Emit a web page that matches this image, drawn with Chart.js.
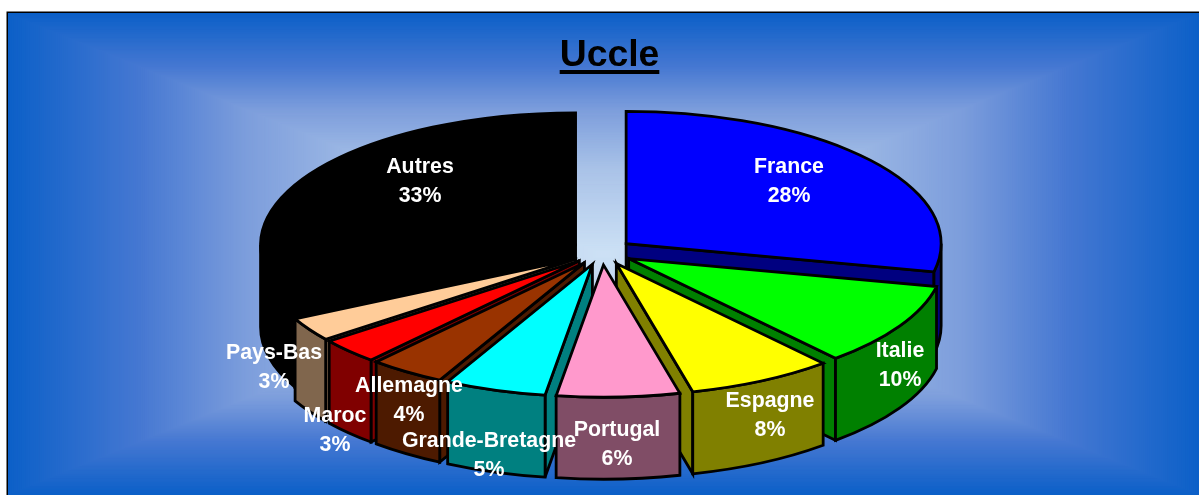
<!DOCTYPE html>
<html>
<head>
<meta charset="utf-8">
<style>html,body{margin:0;padding:0;background:#fff}canvas{display:block}</style>
<script src="https://cdn.jsdelivr.net/npm/chart.js@4/dist/chart.umd.min.js"></script>
</head>
<body>
<canvas id="c" width="1199" height="495"></canvas>
<script>
const categories = ["France","Italie","Espagne","Portugal","Grande-Bretagne","Allemagne","Maroc","Pays-Bas","Autres"];
const values = [28.4,10.2,7.5,6.3,5.2,3.9,3.1,2.9,32.5];
const topColors = ["#0000ff","#00ff00","#ffff00","#ff99cc","#00ffff","#993300","#ff0000","#ffcc99","#000000"];
const sideColors = ["#000080","#008000","#808000","#804d66","#008080","#4d1a00","#800000","#80664d","#000000"];
const titleText = "Uccle";
// label centres (first line), separate from the data
const labelX = [789,900,770,617,489,409,335,274,420];
const labelY = [167,351,401,430,441,386,416,353,167];

const TILT = 0.42, DEPTH = 82, LINE = 2.8, LABEL_GAP = 29;

function paintBackground(ctx, w, h){
  const L=8,T=13,R=w,B=h,cx=(L+R)/2,cy=(T+B)/2,hw=(R-L)/2,hh=(B-T)/2;
  ctx.fillStyle="#fff"; ctx.fillRect(0,0,w,h);
  const ramp=[[0,[12,96,200]],[.22,[70,120,210]],[.4,[125,158,220]],[.65,[170,195,232]],[1,[205,225,245]]];
  const col=t=>{
    for(let i=1;i<ramp.length;i++) if(t<=ramp[i][0]){
      const a=ramp[i-1],b=ramp[i],f=(t-a[0])/(b[0]-a[0]);
      return "rgb("+a[1].map((v,k)=>Math.round(v+(b[1][k]-v)*f)).join(",")+")";
    }
    return "rgb(205,225,245)";
  };
  const N=300;
  for(let n=0;n<N;n++){
    const s=1-n/N;
    ctx.fillStyle=col(n/N);
    ctx.fillRect(cx-hw*s,cy-hh*s,2*hw*s,2*hh*s);
  }
  ctx.strokeStyle="#000";ctx.lineWidth=1.5;
  ctx.beginPath();ctx.moveTo(7.25,h);ctx.lineTo(7.25,12.25);ctx.lineTo(w,12.25);ctx.stroke();
}

function drawSlice(ctx, arc, i){
  const p = arc.getProps(["x","y","startAngle","endAngle","outerRadius"],true);
  const off = arc.options.offset, mid=(p.startAngle+p.endAngle)/2;
  const ax = p.x+Math.cos(mid)*off, ay = p.y+Math.sin(mid)*off*TILT;
  const r=p.outerRadius, ry=r*TILT;
  const px=a=>ax+Math.cos(a)*r, py=a=>ay+Math.sin(a)*ry;
  ctx.lineWidth=LINE;ctx.strokeStyle="#000";ctx.lineJoin="miter";ctx.miterLimit=4;
  const face=a=>{
    ctx.beginPath();ctx.moveTo(ax,ay);ctx.lineTo(px(a),py(a));ctx.lineTo(px(a),py(a)+DEPTH);ctx.lineTo(ax,ay+DEPTH);ctx.closePath();
    ctx.fillStyle=sideColors[i];ctx.fill();ctx.stroke();
  };
  if(Math.cos(p.startAngle)<0) face(p.startAngle);
  if(Math.cos(p.endAngle)>0) face(p.endAngle);
  const w0=Math.max(p.startAngle,0), w1=Math.min(p.endAngle,Math.PI);
  if(w1>w0){
    ctx.beginPath();ctx.ellipse(ax,ay,r,ry,0,w0,w1);
    ctx.ellipse(ax,ay+DEPTH,r,ry,0,w1,w0,true);ctx.closePath();
    ctx.fillStyle=sideColors[i];ctx.fill();ctx.stroke();
  }
  ctx.beginPath();ctx.moveTo(ax,ay);ctx.ellipse(ax,ay,r,ry,0,p.startAngle,p.endAngle);ctx.closePath();
  ctx.fillStyle=topColors[i];ctx.fill();ctx.stroke();
}

const pie3d = {
  id:"pie3d",
  afterLayout(chart){ chart.titleBlock.left+=7.5; chart.titleBlock.right+=7.5; },
  beforeDraw(chart){ paintBackground(chart.ctx,chart.width,chart.height); },
  beforeDatasetsDraw(chart){
    const ctx=chart.ctx, arcs=chart.getDatasetMeta(0).data;
    const depthKey=a=>Math.sin((a.startAngle+a.endAngle)/2);
    arcs.map((a,i)=>[a,i]).sort((u,v)=>depthKey(u[0])-depthKey(v[0]))
      .forEach(([a,i])=>{ctx.save();drawSlice(ctx,a,i);ctx.restore();});
    return false;
  },
  afterDraw(chart){
    const ctx=chart.ctx;
    ctx.save();
    ctx.textAlign="center";ctx.textBaseline="middle";ctx.fillStyle="#fff";
    ctx.font='bold 21.33px "Liberation Sans", Arial, sans-serif';
    categories.forEach((c,i)=>{
      ctx.fillText(c,labelX[i],labelY[i]);
      ctx.fillText(Math.round(values[i])+"%",labelX[i],labelY[i]+LABEL_GAP);
    });
    // title underline
    const t=chart.titleBlock, f=chart.options.plugins.title.font;
    ctx.font=`bold ${f.size}px "Liberation Sans", Arial, sans-serif`;
    const tw=ctx.measureText(titleText).width, tx=(t.left+t.right)/2;
    ctx.fillStyle="#000";
    ctx.fillRect(tx-tw/2,70,tw,4);
    ctx.restore();
  }
};

new Chart(document.getElementById("c"),{
  type:"pie",
  data:{labels:categories,datasets:[{data:values,backgroundColor:topColors,borderColor:"#000",borderWidth:LINE,offset:31}]},
  options:{
    responsive:false,animation:false,radius:315,
    layout:{padding:{left:5,right:0,top:0,bottom:69}},
    plugins:{
      legend:{display:false},tooltip:{enabled:false},
      title:{display:true,text:titleText,color:"#000",align:"center",
        font:{family:'"Liberation Sans", Arial, sans-serif',size:37.33,weight:"bold"},
        padding:{top:33,bottom:0}}
    }
  },
  plugins:[pie3d]
});
</script>
</body>
</html>
